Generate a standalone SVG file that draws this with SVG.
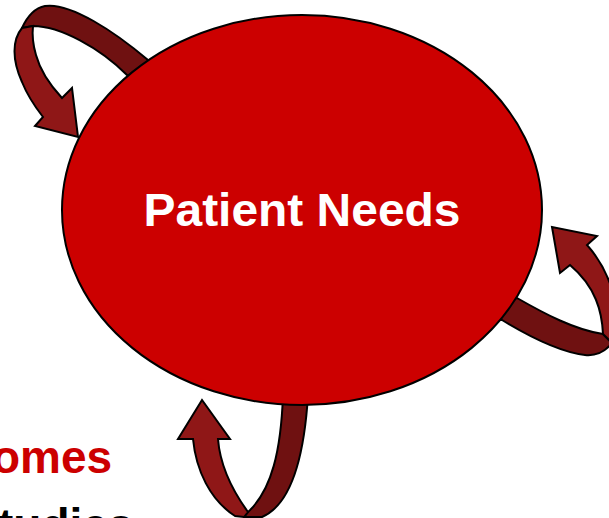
<svg xmlns="http://www.w3.org/2000/svg" width="609" height="518" viewBox="0 0 609 518">
  <style>
    .dark { fill: #6F1111; stroke: #000; stroke-width: 2; stroke-linejoin: round; }
    .light { fill: #8F1717; stroke: #000; stroke-width: 2; stroke-linejoin: miter; }
    .lbl { font-family: "Liberation Sans", Arial, sans-serif; font-weight: bold; }
  </style>
  <rect width="609" height="518" fill="#ffffff"/>
  <g id="connectors">
    <g id="arrow-top-left">
      <path class="dark" d="M 165,80 L 148,60 C 115,32 70,2 45,6 C 35,8 27,17 22,28 L 33,26 C 60,26 100,48 127,75 Z"/>
      <path class="light" d="M 22,28 C 12,40 12,60 22,82 C 28,97 36,108 43,117 L 35,126 L 78,137 L 72,88 L 62,98 C 50,85 40,70 36,55 C 33,45 32,35 33,26 Z"/>
    </g>
    <g id="arrow-right">
      <path class="dark" d="M 490,300 L 517,298 C 545,314 575,330 603,334 L 612,343 C 605,352 595,356 585,355 C 560,352 530,337 502,320 L 490,320 Z"/>
      <path class="light" d="M 603,334 C 602,312 596,287 570,265 L 560,273 L 552,227 L 597,236 L 587,245 C 605,265 615,290 618,320 C 619,335 615,342 612,343 Z"/>
    </g>
    <g id="arrow-bottom">
      <path class="dark" d="M 283,395 C 281,450 272,490 248,512 L 244,517 L 262,517 C 290,505 304,460 308,395 Z"/>
      <path class="light" d="M 248,512 C 232,490 220,465 218,439 L 230,439 L 202,400 L 178,439 L 193,439 C 196,470 210,500 235,516 L 244,517 Z"/>
    </g>
  </g>
  <g id="patient-needs">
    <ellipse cx="302" cy="210" rx="240" ry="195" fill="#CC0000" stroke="#000" stroke-width="2"/>
    <text class="lbl" x="302" y="226" font-size="46" fill="#ffffff" text-anchor="middle" textLength="317" lengthAdjust="spacingAndGlyphs">Patient Needs</text>
  </g>
  <g id="outcomes-label">
    <text class="lbl" x="-8" y="473" font-size="46" fill="#CC0000">omes</text>
  </g>
  <g id="studies-label">
    <text class="lbl" x="-2" y="541" font-size="46" fill="#000000">tudies</text>
  </g>
</svg>
